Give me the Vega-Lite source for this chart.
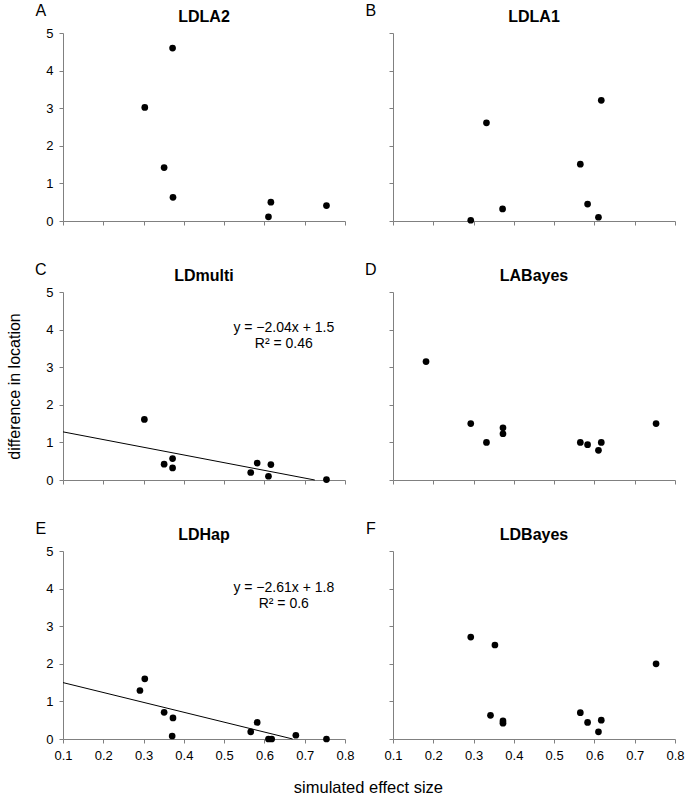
{
  "$schema": "https://vega.github.io/schema/vega-lite/v6.json",
  "background": "white",
  "padding": {"left": 6, "top": 3, "right": 1, "bottom": 2},
  "datasets": {
    "pts": [
      {"p":"A","x":0.303,"y":3.02},{"p":"A","x":0.372,"y":4.6},{"p":"A","x":0.351,"y":1.42},{"p":"A","x":0.373,"y":0.63},{"p":"A","x":0.616,"y":0.5},{"p":"A","x":0.61,"y":0.11},{"p":"A","x":0.754,"y":0.41},
      {"p":"B","x":0.332,"y":2.61},{"p":"B","x":0.293,"y":0.02},{"p":"B","x":0.372,"y":0.32},{"p":"B","x":0.565,"y":1.51},{"p":"B","x":0.583,"y":0.45},{"p":"B","x":0.61,"y":0.1},{"p":"B","x":0.617,"y":3.21},
      {"p":"C","x":0.302,"y":1.61},{"p":"C","x":0.351,"y":0.42},{"p":"C","x":0.372,"y":0.57},{"p":"C","x":0.372,"y":0.32},{"p":"C","x":0.566,"y":0.2},{"p":"C","x":0.582,"y":0.45},{"p":"C","x":0.616,"y":0.41},{"p":"C","x":0.61,"y":0.1},{"p":"C","x":0.754,"y":0.01},
      {"p":"D","x":0.182,"y":3.15},{"p":"D","x":0.293,"y":1.5},{"p":"D","x":0.332,"y":1.0},{"p":"D","x":0.373,"y":1.39},{"p":"D","x":0.373,"y":1.23},{"p":"D","x":0.565,"y":1.0},{"p":"D","x":0.583,"y":0.94},{"p":"D","x":0.61,"y":0.79},{"p":"D","x":0.617,"y":1.0},{"p":"D","x":0.753,"y":1.5},
      {"p":"E","x":0.291,"y":1.29},{"p":"E","x":0.303,"y":1.6},{"p":"E","x":0.351,"y":0.71},{"p":"E","x":0.373,"y":0.56},{"p":"E","x":0.371,"y":0.08},{"p":"E","x":0.566,"y":0.19},{"p":"E","x":0.582,"y":0.44},{"p":"E","x":0.61,"y":0.0},{"p":"E","x":0.618,"y":0.0},{"p":"E","x":0.678,"y":0.1},{"p":"E","x":0.754,"y":0.0},
      {"p":"F","x":0.293,"y":2.71},{"p":"F","x":0.353,"y":2.5},{"p":"F","x":0.342,"y":0.63},{"p":"F","x":0.373,"y":0.48},{"p":"F","x":0.373,"y":0.42},{"p":"F","x":0.565,"y":0.7},{"p":"F","x":0.583,"y":0.44},{"p":"F","x":0.61,"y":0.19},{"p":"F","x":0.617,"y":0.5},{"p":"F","x":0.753,"y":2.0}
    ],
    "fits": [
      {"p":"C","x":0.1,"y":1.28,"x2":0.725,"y2":0,"eq":"y = −2.04x + 1.5","r2":"R² = 0.46"},
      {"p":"E","x":0.1,"y":1.5,"x2":0.67,"y2":0,"eq":"y = −2.61x + 1.8","r2":"R² = 0.6"}
    ]
  },
  "title": {"text": "simulated effect size", "orient": "bottom", "anchor": "middle", "fontSize": 16.5, "fontWeight": "normal", "offset": 18, "dx": 23},
  "concat": [
    {
      "width": 282, "height": 188,
      "layer": [
        {"data":{"name":"pts"},"transform":[{"filter":"datum.p==='A'"}],"mark":{"type":"circle","color":"#000","size":45,"opacity":1},
         "encoding":{
           "x":{"field":"x","type":"quantitative","scale":{"domain":[0.1,0.8],"nice":false,"zero":false},"axis":{"values":[0.1,0.2,0.3,0.4,0.5,0.6,0.7,0.8],"labels":false,"title":null}},
           "y":{"field":"y","type":"quantitative","scale":{"domain":[0,5],"nice":false},"axis":{"values":[0,1,2,3,4,5],"labels":true,"format":"d","title":null}}}},
        {"data":{"values":[{}]},"mark":{"type":"text","fontSize":16,"align":"center","baseline":"alphabetic"},
         "encoding":{"x":{"datum":0.045,"type":"quantitative","scale":{"domain":[0.1,0.8],"nice":false,"zero":false},"axis":{"values":[0.1,0.2,0.3,0.4,0.5,0.6,0.7,0.8],"labels":false,"title":null}},"y":{"datum":5.45,"type":"quantitative","scale":{"domain":[0,5],"nice":false},"axis":{"values":[0,1,2,3,4,5],"labels":true,"format":"d","title":null}},"text":{"value":"A"}}},
        {"data":{"values":[{}]},"mark":{"type":"text","fontSize":16,"fontWeight":"bold","align":"center","baseline":"alphabetic"},
         "encoding":{"x":{"datum":0.45,"type":"quantitative","scale":{"domain":[0.1,0.8],"nice":false,"zero":false},"axis":{"values":[0.1,0.2,0.3,0.4,0.5,0.6,0.7,0.8],"labels":false,"title":null}},"y":{"datum":5.28,"type":"quantitative","scale":{"domain":[0,5],"nice":false},"axis":{"values":[0,1,2,3,4,5],"labels":true,"format":"d","title":null}},"text":{"value":"LDLA2"}}}
      ]
    },
    {
      "width": 282, "height": 188,
      "layer": [
        {"data":{"name":"pts"},"transform":[{"filter":"datum.p==='B'"}],"mark":{"type":"circle","color":"#000","size":45,"opacity":1},
         "encoding":{
           "x":{"field":"x","type":"quantitative","scale":{"domain":[0.1,0.8],"nice":false,"zero":false},"axis":{"values":[0.1,0.2,0.3,0.4,0.5,0.6,0.7,0.8],"labels":false,"title":null}},
           "y":{"field":"y","type":"quantitative","scale":{"domain":[0,5],"nice":false},"axis":{"values":[0,1,2,3,4,5],"labels":false,"title":null}}}},
        {"data":{"values":[{}]},"mark":{"type":"text","fontSize":16,"align":"center","baseline":"alphabetic"},
         "encoding":{"x":{"datum":0.045,"type":"quantitative","scale":{"domain":[0.1,0.8],"nice":false,"zero":false},"axis":{"values":[0.1,0.2,0.3,0.4,0.5,0.6,0.7,0.8],"labels":false,"title":null}},"y":{"datum":5.45,"type":"quantitative","scale":{"domain":[0,5],"nice":false},"axis":{"values":[0,1,2,3,4,5],"labels":false,"title":null}},"text":{"value":"B"}}},
        {"data":{"values":[{}]},"mark":{"type":"text","fontSize":16,"fontWeight":"bold","align":"center","baseline":"alphabetic"},
         "encoding":{"x":{"datum":0.45,"type":"quantitative","scale":{"domain":[0.1,0.8],"nice":false,"zero":false},"axis":{"values":[0.1,0.2,0.3,0.4,0.5,0.6,0.7,0.8],"labels":false,"title":null}},"y":{"datum":5.28,"type":"quantitative","scale":{"domain":[0,5],"nice":false},"axis":{"values":[0,1,2,3,4,5],"labels":false,"title":null}},"text":{"value":"LDLA1"}}}
      ]
    },
    {
      "width": 282, "height": 188,
      "layer": [
        {"data":{"name":"pts"},"transform":[{"filter":"datum.p==='C'"}],"mark":{"type":"circle","color":"#000","size":45,"opacity":1},
         "encoding":{
           "x":{"field":"x","type":"quantitative","scale":{"domain":[0.1,0.8],"nice":false,"zero":false},"axis":{"values":[0.1,0.2,0.3,0.4,0.5,0.6,0.7,0.8],"labels":false,"title":null}},
           "y":{"field":"y","type":"quantitative","scale":{"domain":[0,5],"nice":false},"axis":{"values":[0,1,2,3,4,5],"labels":true,"format":"d","title":"difference in location"}}}},
        {"data":{"name":"fits"},"transform":[{"filter":"datum.p==='C'"}],"mark":{"type":"rule","color":"#000","strokeWidth":1},
         "encoding":{"x":{"field":"x","type":"quantitative","scale":{"domain":[0.1,0.8],"nice":false,"zero":false},"axis":{"values":[0.1,0.2,0.3,0.4,0.5,0.6,0.7,0.8],"labels":false,"title":null}},"y":{"field":"y","type":"quantitative","scale":{"domain":[0,5],"nice":false},"axis":{"values":[0,1,2,3,4,5],"labels":true,"format":"d","title":"difference in location"}},"x2":{"field":"x2"},"y2":{"field":"y2"}}},
        {"data":{"name":"fits"},"transform":[{"filter":"datum.p==='C'"}],"mark":{"type":"text","fontSize":14,"align":"center","baseline":"middle"},
         "encoding":{"x":{"datum":0.648,"type":"quantitative","scale":{"domain":[0.1,0.8],"nice":false,"zero":false},"axis":{"values":[0.1,0.2,0.3,0.4,0.5,0.6,0.7,0.8],"labels":false,"title":null}},"y":{"datum":4.04,"type":"quantitative","scale":{"domain":[0,5],"nice":false},"axis":{"values":[0,1,2,3,4,5],"labels":true,"format":"d","title":"difference in location"}},"text":{"field":"eq"}}},
        {"data":{"name":"fits"},"transform":[{"filter":"datum.p==='C'"}],"mark":{"type":"text","fontSize":14,"align":"center","baseline":"middle"},
         "encoding":{"x":{"datum":0.648,"type":"quantitative","scale":{"domain":[0.1,0.8],"nice":false,"zero":false},"axis":{"values":[0.1,0.2,0.3,0.4,0.5,0.6,0.7,0.8],"labels":false,"title":null}},"y":{"datum":3.61,"type":"quantitative","scale":{"domain":[0,5],"nice":false},"axis":{"values":[0,1,2,3,4,5],"labels":true,"format":"d","title":"difference in location"}},"text":{"field":"r2"}}},
        {"data":{"values":[{}]},"mark":{"type":"text","fontSize":16,"align":"center","baseline":"alphabetic"},
         "encoding":{"x":{"datum":0.045,"type":"quantitative","scale":{"domain":[0.1,0.8],"nice":false,"zero":false},"axis":{"values":[0.1,0.2,0.3,0.4,0.5,0.6,0.7,0.8],"labels":false,"title":null}},"y":{"datum":5.45,"type":"quantitative","scale":{"domain":[0,5],"nice":false},"axis":{"values":[0,1,2,3,4,5],"labels":true,"format":"d","title":"difference in location"}},"text":{"value":"C"}}},
        {"data":{"values":[{}]},"mark":{"type":"text","fontSize":16,"fontWeight":"bold","align":"center","baseline":"alphabetic"},
         "encoding":{"x":{"datum":0.45,"type":"quantitative","scale":{"domain":[0.1,0.8],"nice":false,"zero":false},"axis":{"values":[0.1,0.2,0.3,0.4,0.5,0.6,0.7,0.8],"labels":false,"title":null}},"y":{"datum":5.28,"type":"quantitative","scale":{"domain":[0,5],"nice":false},"axis":{"values":[0,1,2,3,4,5],"labels":true,"format":"d","title":"difference in location"}},"text":{"value":"LDmulti"}}}
      ]
    },
    {
      "width": 282, "height": 188,
      "layer": [
        {"data":{"name":"pts"},"transform":[{"filter":"datum.p==='D'"}],"mark":{"type":"circle","color":"#000","size":45,"opacity":1},
         "encoding":{
           "x":{"field":"x","type":"quantitative","scale":{"domain":[0.1,0.8],"nice":false,"zero":false},"axis":{"values":[0.1,0.2,0.3,0.4,0.5,0.6,0.7,0.8],"labels":false,"title":null}},
           "y":{"field":"y","type":"quantitative","scale":{"domain":[0,5],"nice":false},"axis":{"values":[0,1,2,3,4,5],"labels":false,"title":null}}}},
        {"data":{"values":[{}]},"mark":{"type":"text","fontSize":16,"align":"center","baseline":"alphabetic"},
         "encoding":{"x":{"datum":0.045,"type":"quantitative","scale":{"domain":[0.1,0.8],"nice":false,"zero":false},"axis":{"values":[0.1,0.2,0.3,0.4,0.5,0.6,0.7,0.8],"labels":false,"title":null}},"y":{"datum":5.45,"type":"quantitative","scale":{"domain":[0,5],"nice":false},"axis":{"values":[0,1,2,3,4,5],"labels":false,"title":null}},"text":{"value":"D"}}},
        {"data":{"values":[{}]},"mark":{"type":"text","fontSize":16,"fontWeight":"bold","align":"center","baseline":"alphabetic"},
         "encoding":{"x":{"datum":0.45,"type":"quantitative","scale":{"domain":[0.1,0.8],"nice":false,"zero":false},"axis":{"values":[0.1,0.2,0.3,0.4,0.5,0.6,0.7,0.8],"labels":false,"title":null}},"y":{"datum":5.28,"type":"quantitative","scale":{"domain":[0,5],"nice":false},"axis":{"values":[0,1,2,3,4,5],"labels":false,"title":null}},"text":{"value":"LABayes"}}}
      ]
    },
    {
      "width": 282, "height": 188,
      "layer": [
        {"data":{"name":"pts"},"transform":[{"filter":"datum.p==='E'"}],"mark":{"type":"circle","color":"#000","size":45,"opacity":1},
         "encoding":{
           "x":{"field":"x","type":"quantitative","scale":{"domain":[0.1,0.8],"nice":false,"zero":false},"axis":{"values":[0.1,0.2,0.3,0.4,0.5,0.6,0.7,0.8],"labels":true,"format":".1f","title":null}},
           "y":{"field":"y","type":"quantitative","scale":{"domain":[0,5],"nice":false},"axis":{"values":[0,1,2,3,4,5],"labels":true,"format":"d","title":null}}}},
        {"data":{"name":"fits"},"transform":[{"filter":"datum.p==='E'"}],"mark":{"type":"rule","color":"#000","strokeWidth":1},
         "encoding":{"x":{"field":"x","type":"quantitative","scale":{"domain":[0.1,0.8],"nice":false,"zero":false},"axis":{"values":[0.1,0.2,0.3,0.4,0.5,0.6,0.7,0.8],"labels":true,"format":".1f","title":null}},"y":{"field":"y","type":"quantitative","scale":{"domain":[0,5],"nice":false},"axis":{"values":[0,1,2,3,4,5],"labels":true,"format":"d","title":null}},"x2":{"field":"x2"},"y2":{"field":"y2"}}},
        {"data":{"name":"fits"},"transform":[{"filter":"datum.p==='E'"}],"mark":{"type":"text","fontSize":14,"align":"center","baseline":"middle"},
         "encoding":{"x":{"datum":0.648,"type":"quantitative","scale":{"domain":[0.1,0.8],"nice":false,"zero":false},"axis":{"values":[0.1,0.2,0.3,0.4,0.5,0.6,0.7,0.8],"labels":true,"format":".1f","title":null}},"y":{"datum":4.02,"type":"quantitative","scale":{"domain":[0,5],"nice":false},"axis":{"values":[0,1,2,3,4,5],"labels":true,"format":"d","title":null}},"text":{"field":"eq"}}},
        {"data":{"name":"fits"},"transform":[{"filter":"datum.p==='E'"}],"mark":{"type":"text","fontSize":14,"align":"center","baseline":"middle"},
         "encoding":{"x":{"datum":0.648,"type":"quantitative","scale":{"domain":[0.1,0.8],"nice":false,"zero":false},"axis":{"values":[0.1,0.2,0.3,0.4,0.5,0.6,0.7,0.8],"labels":true,"format":".1f","title":null}},"y":{"datum":3.59,"type":"quantitative","scale":{"domain":[0,5],"nice":false},"axis":{"values":[0,1,2,3,4,5],"labels":true,"format":"d","title":null}},"text":{"field":"r2"}}},
        {"data":{"values":[{}]},"mark":{"type":"text","fontSize":16,"align":"center","baseline":"alphabetic"},
         "encoding":{"x":{"datum":0.045,"type":"quantitative","scale":{"domain":[0.1,0.8],"nice":false,"zero":false},"axis":{"values":[0.1,0.2,0.3,0.4,0.5,0.6,0.7,0.8],"labels":true,"format":".1f","title":null}},"y":{"datum":5.45,"type":"quantitative","scale":{"domain":[0,5],"nice":false},"axis":{"values":[0,1,2,3,4,5],"labels":true,"format":"d","title":null}},"text":{"value":"E"}}},
        {"data":{"values":[{}]},"mark":{"type":"text","fontSize":16,"fontWeight":"bold","align":"center","baseline":"alphabetic"},
         "encoding":{"x":{"datum":0.45,"type":"quantitative","scale":{"domain":[0.1,0.8],"nice":false,"zero":false},"axis":{"values":[0.1,0.2,0.3,0.4,0.5,0.6,0.7,0.8],"labels":true,"format":".1f","title":null}},"y":{"datum":5.28,"type":"quantitative","scale":{"domain":[0,5],"nice":false},"axis":{"values":[0,1,2,3,4,5],"labels":true,"format":"d","title":null}},"text":{"value":"LDHap"}}}
      ]
    },
    {
      "width": 282, "height": 188,
      "layer": [
        {"data":{"name":"pts"},"transform":[{"filter":"datum.p==='F'"}],"mark":{"type":"circle","color":"#000","size":45,"opacity":1},
         "encoding":{
           "x":{"field":"x","type":"quantitative","scale":{"domain":[0.1,0.8],"nice":false,"zero":false},"axis":{"values":[0.1,0.2,0.3,0.4,0.5,0.6,0.7,0.8],"labels":true,"format":".1f","title":null}},
           "y":{"field":"y","type":"quantitative","scale":{"domain":[0,5],"nice":false},"axis":{"values":[0,1,2,3,4,5],"labels":false,"title":null}}}},
        {"data":{"values":[{}]},"mark":{"type":"text","fontSize":16,"align":"center","baseline":"alphabetic"},
         "encoding":{"x":{"datum":0.045,"type":"quantitative","scale":{"domain":[0.1,0.8],"nice":false,"zero":false},"axis":{"values":[0.1,0.2,0.3,0.4,0.5,0.6,0.7,0.8],"labels":true,"format":".1f","title":null}},"y":{"datum":5.45,"type":"quantitative","scale":{"domain":[0,5],"nice":false},"axis":{"values":[0,1,2,3,4,5],"labels":false,"title":null}},"text":{"value":"F"}}},
        {"data":{"values":[{}]},"mark":{"type":"text","fontSize":16,"fontWeight":"bold","align":"center","baseline":"alphabetic"},
         "encoding":{"x":{"datum":0.45,"type":"quantitative","scale":{"domain":[0.1,0.8],"nice":false,"zero":false},"axis":{"values":[0.1,0.2,0.3,0.4,0.5,0.6,0.7,0.8],"labels":true,"format":".1f","title":null}},"y":{"datum":5.28,"type":"quantitative","scale":{"domain":[0,5],"nice":false},"axis":{"values":[0,1,2,3,4,5],"labels":false,"title":null}},"text":{"value":"LDBayes"}}}
      ]
    }
  ],
  "columns": 2,
  "align": "each",
  "spacing": {"row": 34, "column": 10},
  "config": {
    "font": "Liberation Sans",
    "view": {"stroke": null},
    "text": {"font": "Liberation Sans", "color": "#000"},
    "axis": {"grid": false, "domainColor": "#808080", "tickColor": "#808080", "tickSize": 4, "labelFontSize": 13, "labelColor": "#000", "labelFont": "Liberation Sans", "labelPadding": 6, "labelFlush": false, "labelOverlap": false, "titleFont": "Liberation Sans", "titleFontSize": 16, "titleFontWeight": "normal", "titleColor": "#000", "titlePadding": 23},
    "axisX": {"tickCount": 8},
    "axisY": {"tickCount": 6},
    "title": {"font": "Liberation Sans", "color": "#000"}
  }
}
